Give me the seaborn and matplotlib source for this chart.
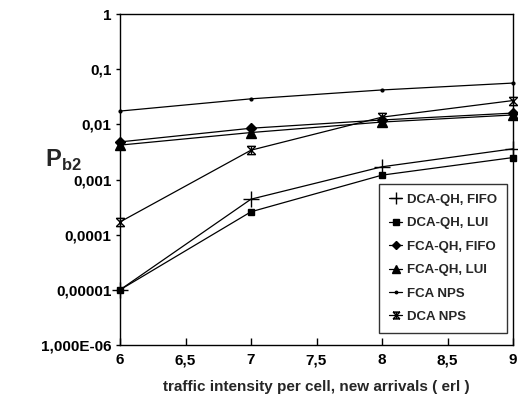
import numpy as np
import pandas as pd
import matplotlib
matplotlib.use("Agg")
import matplotlib.pyplot as plt
from matplotlib.path import Path
from matplotlib.lines import Line2D
from matplotlib.ticker import FixedLocator, FixedFormatter, NullLocator
import seaborn as sns

traffic = [6, 7, 8, 9]
series_names = ["DCA-QH, FIFO", "DCA-QH, LUI", "FCA-QH, FIFO", "FCA-QH, LUI", "FCA NPS", "DCA NPS"]
dca_qh_fifo = [1.0e-5, 4.4e-4, 1.7e-3, 3.6e-3]
dca_qh_lui = [1.0e-5, 2.6e-4, 1.2e-3, 2.5e-3]
fca_qh_fifo = [4.8e-3, 8.5e-3, 1.2e-2, 1.6e-2]
fca_qh_lui = [4.2e-3, 7.1e-3, 1.1e-2, 1.48e-2]
fca_nps = [1.74e-2, 2.9e-2, 4.2e-2, 5.6e-2]
dca_nps = [1.7e-4, 3.4e-3, 1.35e-2, 2.7e-2]
values = [dca_qh_fifo, dca_qh_lui, fca_qh_fifo, fca_qh_lui, fca_nps, dca_nps]

x_ticks = [6, 6.5, 7, 7.5, 8, 8.5, 9]
x_tick_labels = ["6", "6,5", "7", "7,5", "8", "8,5", "9"]
y_ticks = [1e-6, 1e-5, 1e-4, 1e-3, 1e-2, 1e-1, 1]
y_tick_labels = ["1,000E-06", "0,00001", "0,0001", "0,001", "0,01", "0,1", "1"]

rows = []
for name, vals in zip(series_names, values):
    for x, v in zip(traffic, vals):
        rows.append({"x": x, "y": v, "series": name})
df = pd.DataFrame(rows)

sns.set_theme(style="white")
plt.rcParams["font.family"] = ["Liberation Sans", "DejaVu Sans"]
plt.rcParams["mathtext.fontset"] = "custom"
plt.rcParams["mathtext.rm"] = "Liberation Sans:bold"
plt.rcParams["mathtext.bf"] = "Liberation Sans:bold"

star = Path(
    [(-1, 1), (1, 1), (-1, -1), (1, -1), (-1, -1), (1, 1), (-1, 1), (1, -1), (0, -1), (0, 1)],
    [Path.MOVETO, Path.LINETO, Path.MOVETO, Path.LINETO, Path.MOVETO, Path.LINETO,
     Path.MOVETO, Path.LINETO, Path.MOVETO, Path.LINETO],
)
markers = {
    "DCA-QH, FIFO": "+",
    "DCA-QH, LUI": "s",
    "FCA-QH, FIFO": "D",
    "FCA-QH, LUI": "^",
    "FCA NPS": ".",
    "DCA NPS": star,
}
sizes = {"DCA-QH, FIFO": 11, "DCA-QH, LUI": 5, "FCA-QH, FIFO": 5.5,
         "FCA-QH, LUI": 7, "FCA NPS": 4, "DCA NPS": 6}
leg_sizes = {"DCA-QH, FIFO": 9, "DCA-QH, LUI": 4, "FCA-QH, FIFO": 4.5,
             "FCA-QH, LUI": 5.5, "FCA NPS": 3.5, "DCA NPS": 5}

fig = plt.figure(figsize=(5.18, 3.99), dpi=100)
ax = fig.add_axes([120 / 518, 1 - 345 / 399, (513 - 120) / 518, (345 - 14) / 399])

for name in series_names:
    sub = df[df["series"] == name]
    sns.lineplot(data=sub, x="x", y="y", color="black", marker=markers[name],
                 markersize=sizes[name], markeredgewidth=1.0,
                 markerfacecolor="black", markeredgecolor="black",
                 linewidth=0.9, ax=ax, legend=False, clip_on=False)

ax.set_yscale("log")
ax.set_xlim(6, 9)
ax.set_ylim(1e-6, 1)
ax.xaxis.set_major_locator(FixedLocator(x_ticks))
ax.xaxis.set_major_formatter(FixedFormatter(x_tick_labels))
ax.yaxis.set_major_locator(FixedLocator(y_ticks))
ax.yaxis.set_major_formatter(FixedFormatter(y_tick_labels))
ax.yaxis.set_minor_locator(NullLocator())
ax.tick_params(axis="x", direction="in", length=5, width=1, colors="black",
               labelsize=11, pad=6, bottom=True)
ax.tick_params(axis="y", direction="out", length=3, width=1, colors="black",
               labelsize=11, pad=3, left=True)
for lab in ax.get_xticklabels() + ax.get_yticklabels():
    lab.set_fontweight("bold")
for sp in ax.spines.values():
    sp.set_color("black")
    sp.set_linewidth(1.0)

ax.set_xlabel("traffic intensity per cell, new arrivals ( erl )", fontsize=11,
              fontweight="bold", labelpad=9)
ax.set_ylabel("")
fig.text(45 / 518, 1 - 160 / 399, r"$\mathbf{P}_{\mathbf{b2}}$", fontsize=17,
         ha="left", va="center")

handles = []
for name in series_names:
    handles.append(Line2D([0], [0], color="black", lw=0.9, marker=markers[name],
                          markersize=leg_sizes[name], markerfacecolor="black",
                          markeredgecolor="black"))
leg = ax.legend(handles, series_names, loc="lower right",
                bbox_to_anchor=(507 / 518, 1 - 333 / 399), bbox_transform=fig.transFigure,
                borderaxespad=0.0,
                frameon=True, fancybox=False, edgecolor="black", handlelength=1.0,
                handletextpad=0.35, labelspacing=0.85, borderpad=0.75,
                prop={"weight": "bold", "size": 9.5})
leg.get_frame().set_linewidth(1.0)

fig.savefig("out.png", dpi=100)
